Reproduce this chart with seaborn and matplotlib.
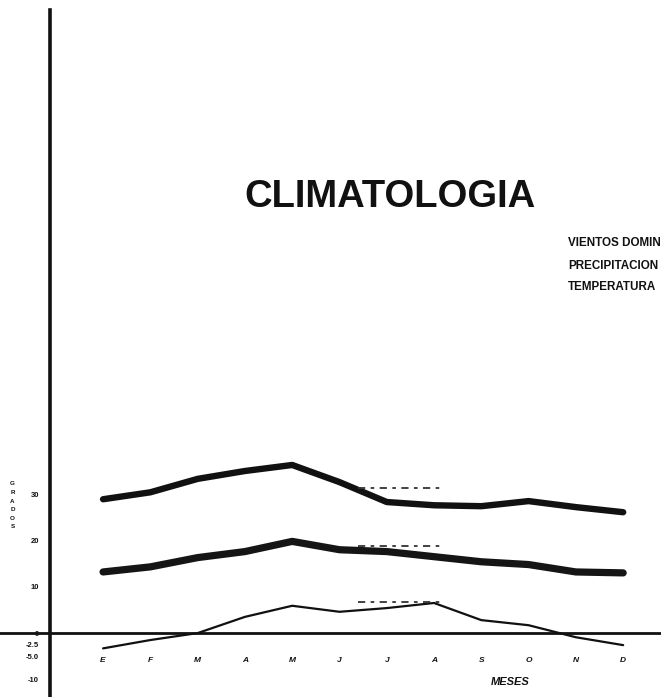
import matplotlib
matplotlib.use("Agg")
import matplotlib.pyplot as plt
import seaborn as sns
import pandas as pd
import numpy as np

months = ["E", "F", "M", "A", "M", "J", "J", "A", "S", "O", "N", "D"]
vientos = [28.9, 30.4, 33.3, 35.0, 36.3, 32.6, 28.3, 27.6, 27.4, 28.5, 27.2, 26.1]
precipitacion = [13.2, 14.3, 16.3, 17.6, 19.8, 18.0, 17.6, 16.5, 15.4, 14.8, 13.2, 13.0]
temperatura = [-3.3, -1.5, 0.0, 3.5, 5.9, 4.6, 5.4, 6.5, 2.8, 1.7, -0.9, -2.6]
ytick_vals = [30, 20, 10, 0, -2.5, -5, -10]
ytick_labels = ["30", "20", "10", "0", "-2.5", "-5.0", "-10"]
minor_y = list(range(40, 140, 10))

# faint dashed fragments seen above each curve (months index, value)
frag_x = [5.4, 7.2]
frag_vientos = [31.3, 31.3]
frag_precip = [18.9, 18.9]
frag_temp = [6.8, 6.8]

sns.set_theme(style="white")
plt.rcParams['font.family'] = ['Liberation Sans', 'DejaVu Sans']

fig = plt.figure(figsize=(6.61, 6.97), dpi=100)
ax = fig.add_axes([0, 0, 1, 1])
ax.set_facecolor("white")

idx = np.arange(len(months))
df = pd.DataFrame({"mes": idx, "vientos": vientos, "precip": precipitacion, "temp": temperatura})

sns.lineplot(data=df, x="mes", y="vientos", ax=ax, color="#111111", linewidth=4.6)
sns.lineplot(data=df, x="mes", y="precip", ax=ax, color="#151515", linewidth=5.2)
sns.lineplot(data=df, x="mes", y="temp", ax=ax, color="#111111", linewidth=1.6)

for fy in (frag_vientos, frag_precip, frag_temp):
    ax.plot(frag_x, fy, color="#333333", linewidth=1.3, linestyle=(0, (4, 3, 2, 3)))

ax.set_xlim(-2.18, 11.80)
ax.set_ylim(-13.8, 136.7)

for s in ["top", "right"]:
    ax.spines[s].set_visible(False)
ax.spines["left"].set_position(("data", -1.12))
ax.spines["left"].set_bounds(-13.8, 134.5)
ax.spines["left"].set_linewidth(2.6)
ax.spines["left"].set_color("#111111")
ax.spines["bottom"].set_position(("data", 0))
ax.spines["bottom"].set_linewidth(2.0)
ax.spines["bottom"].set_color("#111111")

ax.set_xticks(idx)
ax.set_xticklabels(months, fontsize=6, fontweight="bold", fontstyle="italic")
ax.tick_params(axis="x", direction="inout", length=6, width=1.5, pad=14, colors="#111111")

ax.set_yticks(ytick_vals)
ax.set_yticklabels(ytick_labels, fontsize=5.5, fontweight="bold")
ax.set_yticks(minor_y, minor=True)
ax.tick_params(axis="y", which="both", direction="out", length=4, width=1.2, pad=4, colors="#111111")

ax.set_xlabel("")
ax.set_ylabel("")

fig.text(0.772, 0.022, "MESES", fontsize=8, fontweight="bold", fontstyle="italic", ha="center", va="center", color="#111111")
fig.text(0.019, 0.275, "G\nR\nA\nD\nO\nS", fontsize=4.5, fontweight="bold", ha="center", va="center", linespacing=1.9, color="#111111")

fig.text(0.59, 0.717, "CLIMATOLOGIA", fontsize=27.5, fontweight="bold", ha="center", va="center", color="#111111")
fig.text(0.859, 0.651, "VIENTOS DOMIN", fontsize=8.4, fontweight="bold", ha="left", va="center", color="#111111")
fig.text(0.859, 0.619, "PRECIPITACION", fontsize=8.4, fontweight="bold", ha="left", va="center", color="#111111")
fig.text(0.859, 0.588, "TEMPERATURA", fontsize=8.4, fontweight="bold", ha="left", va="center", color="#111111")

fig.savefig("out.png", dpi=100, facecolor="white")
